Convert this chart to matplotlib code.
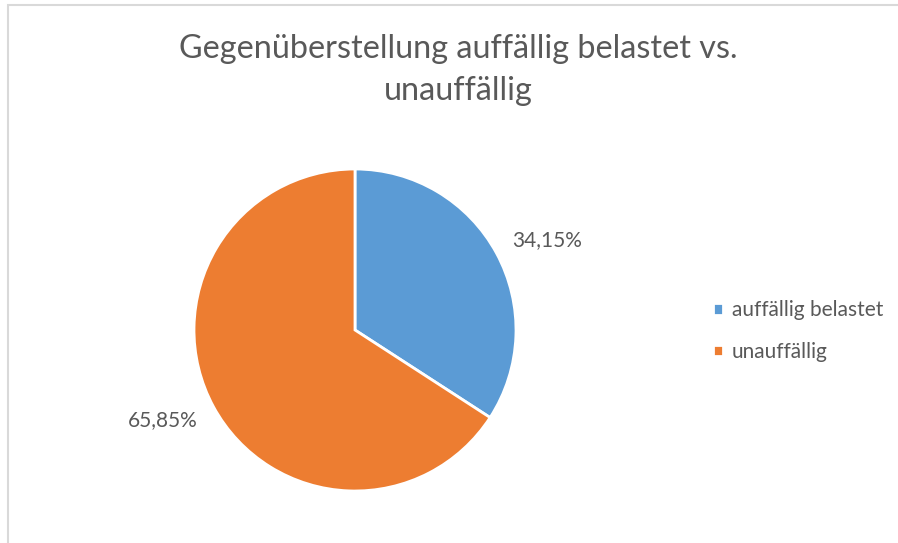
import numpy as np
import matplotlib.pyplot as plt
from matplotlib.patches import Rectangle

# Daten
categories = ["auffällig belastet", "unauffällig"]
shares = [34.15, 65.85]
colors = ["#5B9BD5", "#ED7D31"]
title = "Gegenüberstellung auffällig belastet vs.\nunauffällig"

plt.rcParams['font.family'] = ['Lato', 'DejaVu Sans']
textgray = "#595959"

W, H = 898, 543
fig = plt.figure(figsize=(W / 100, H / 100), dpi=100)

# Rahmen (nur oben und links sichtbar)
fig.add_artist(Rectangle((7.5 / W, -0.1), 1.2, 1.1 - 5.5 / H, transform=fig.transFigure,
                         fill=False, edgecolor="#D9D9D9", linewidth=1.5))

cx, cy, r = 355, 330, 161
ax = fig.add_axes([(cx - r) / W, (H - cy - r) / H, 2 * r / W, 2 * r / H])
wedges, texts = ax.pie(shares, colors=colors, startangle=90, counterclock=False,
                       labels=[f"{v:.2f}%".replace(".", ",") for v in shares],
                       wedgeprops=dict(edgecolor="white", linewidth=2),
                       textprops=dict(color=textgray, fontsize=15))
# Datenbeschriftungen wie in Excel etwas flacher setzen
for w, t in zip(wedges, texts):
    ang = np.deg2rad((w.theta1 + w.theta2) / 2)
    t.set_position((1.36 * np.cos(ang), 1.36 * 0.86 * np.sin(ang)))
    t.set_horizontalalignment("center")
    t.set_verticalalignment("center")
ax.set_xlim(-1, 1)
ax.set_ylim(-1, 1)

fig.text(458 / W, 1 - 70 / H, title, ha="center", va="center", fontsize=23.3,
         color=textgray, linespacing=1.5)

fig.legend(wedges, categories, loc="center left", bbox_to_anchor=(694 / W, 1 - 331 / H),
           frameon=False, fontsize=15, labelcolor=textgray, handlelength=0.5,
           handleheight=0.5, handletextpad=0.4, labelspacing=1.05)

fig.savefig("out.png", dpi=100)
